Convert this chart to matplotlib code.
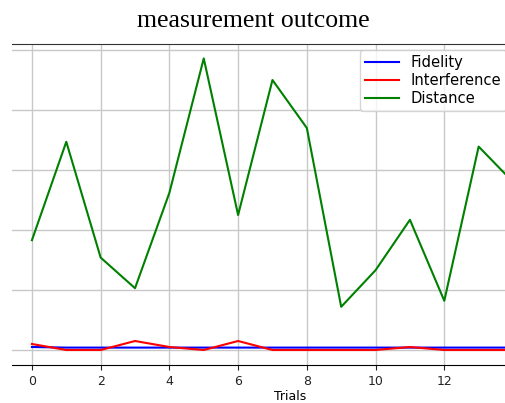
import numpy as np
import matplotlib
matplotlib.use("Agg")
import matplotlib.pyplot as plt

# values (y units arbitrary, gridlines every 1.0)
trials = np.arange(15)
fidelity = [0.05, 0.04, 0.04, 0.04, 0.04, 0.04, 0.04, 0.04, 0.04, 0.04, 0.04, 0.04, 0.04, 0.04, 0.04]
interference = [0.10, 0.0, 0.0, 0.15, 0.05, 0.0, 0.15, 0.0, 0.0, 0.0, 0.0, 0.05, 0.0, 0.0, 0.0]
distance = [1.83, 3.47, 1.54, 1.03, 2.62, 4.86, 2.25, 4.50, 3.70, 0.72, 1.33, 2.17, 0.82, 3.39, 2.80]
xtick_vals = [0, 2, 4, 6, 8, 10, 12]

W, H = 505, 403
fig = plt.figure(figsize=(W / 100, H / 100), dpi=100)

# axes runs past the right edge of the picture, as in the reference crop
left, right, top, bottom = 12, 568, 44, 365
ax = fig.add_axes([left / W, (H - bottom) / H, (right - left) / W, (bottom - top) / H])

ax.plot(trials, fidelity, color='blue', lw=1.5, label='Fidelity')
ax.plot(trials, interference, color='red', lw=1.5, label='Interference')
ax.plot(trials, distance, color='green', lw=1.5, label='Distance')

ax.set_xlim(-0.58, 15.6)
ax.set_ylim(-0.25, 5.1)
ax.set_xticks(xtick_vals)
ax.set_yticks(np.arange(0, 6, 1))
ax.tick_params(axis='y', length=0, labelleft=False)
ax.tick_params(axis='x', labelsize=9, colors='#222222')
ax.grid(True, color='#c8c8c8', lw=1)
ax.spines['left'].set_visible(False)
ax.spines['right'].set_visible(False)
ax.spines['top'].set_color('#333333')
ax.set_xlabel('Trials', fontsize=9, labelpad=2)

ax.legend(loc='upper left', bbox_to_anchor=(360 / W, 1 - 50 / H), bbox_transform=fig.transFigure,
          fontsize=10.6, borderaxespad=0, handlelength=2.3, handletextpad=0.8,
          labelspacing=0.2, borderpad=0.33)

fig.text(253 / W, 1 - 27 / H, 'measurement outcome', ha='center', va='baseline',
         family='Liberation Serif', fontsize=18.5)

fig.savefig('out.png', dpi=100)
